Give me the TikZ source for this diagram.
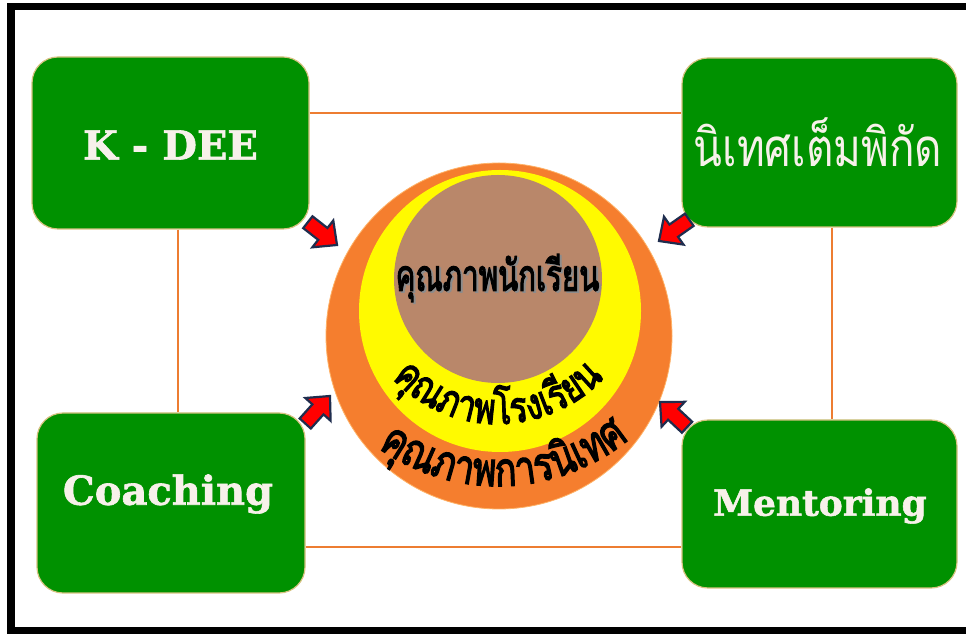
\documentclass[tikz,border=0pt]{standalone}
\usepackage{fontspec}
\newfontfamily\thaifont[Script=Thai]{Loma}
\newfontfamily\thaiheavy[Script=Thai,FakeBold=3.2]{Loma}
\newfontfamily\serifheavy[BoldFeatures={FakeBold=1.5}]{DejaVu Serif}
\definecolor{boxgreen}{RGB}{0,145,0}
\definecolor{boxedge}{RGB}{214,194,128}
\definecolor{linecol}{RGB}{237,125,49}
\definecolor{outerc}{RGB}{245,126,46}
\definecolor{yellowc}{RGB}{255,250,0}
\definecolor{brownc}{RGB}{185,135,106}
\definecolor{arrowred}{RGB}{255,0,0}
\definecolor{arrowedge}{RGB}{31,45,78}
\definecolor{cream}{RGB}{247,241,234}
\newlength\glw
\newcommand\arcmeasure[2]{%
  \gdef\arcacc{0}%
  \foreach \cl [count=\ci] in {#2}{%
    \settowidth\glw{#1{\cl}}%
    \expandafter\xdef\csname arcw\ci\endcsname{\the\glw}%
    \pgfmathsetmacro\arctmp{\arcacc+\glw}%
    \global\let\arcacc\arctmp}%
}
\newcommand\arcplace[5]{%
  \pgfmathsetmacro\arcstart{#3-\arcacc/#2*57.29578/2}%
  \gdef\arcpos{0}%
  \foreach \cl [count=\ci] in {#5}{%
    \edef\curw{\csname arcw\ci\endcsname}%
    \pgfmathsetmacro\arcang{\arcstart+(\arcpos+\curw/2)/#2*57.29578}%
    \node[anchor=base, rotate=\arcang+90, inner sep=0pt] at ([shift={(\arcang:#2)}]#1) {#4{\cl}};
    \pgfmathsetmacro\arctmp{\arcpos+\curw}%
    \global\let\arcpos\arctmp}%
}
\newcommand\glyphA[1]{\scalebox{1.0}[1.3]{\thaiheavy\fontsize{33}{40}\selectfont #1}}
\newcommand\glyphB[1]{\scalebox{1.0}[1.3]{\thaiheavy\fontsize{36}{42}\selectfont #1}}
\newcommand\blockarrow[2]{%
  \draw[arrowshape, shift={#1}, rotate=#2] (0,0) -- (-18,17) -- (-18,7.5) -- (-37,7.5) -- (-37,-7.5) -- (-18,-7.5) -- (-18,-17) -- cycle;
}
\tikzset{
  gbox/.style={rectangle, rounded corners=26pt, fill=boxgreen, draw=boxedge, line width=1.2pt, inner sep=0pt},
  engtext/.style={text=cream, font=\serifheavy\bfseries\fontsize{40}{48}\selectfont, inner sep=0pt},
  thaibox/.style={text=cream, font=\thaifont\fontsize{44}{54}\selectfont, inner sep=0pt},
  link/.style={draw=linecol, line width=2.6pt},
  arrowshape/.style={fill=arrowred, draw=arrowedge, line width=2.2pt, line join=miter},
  disc/.style={circle, inner sep=0pt},
}
\begin{document}
\begin{tikzpicture}[x=1pt,y=1pt]
\useasboundingbox (0,0) rectangle (966,634);
\fill[white] (0,0) rectangle (966,634);
% frame
\fill[black] (7,624) rectangle (966,631);
\fill[black] (7,0) rectangle (15,631);
\fill[black] (7,0) rectangle (966,7);
% boxes
\node[gbox, minimum width=277pt, minimum height=172pt] (kdee) at (170.5,491) {};
\node[gbox, minimum width=275pt, minimum height=169pt] (nitet) at (819.5,491.5) {};
\node[gbox, minimum width=268pt, minimum height=180pt] (coach) at (171,131) {};
\node[gbox, minimum width=275pt, minimum height=168pt] (mentor) at (819.5,130) {};
% links
\coordinate (ytop) at (0,521);
\coordinate (ybot) at (0,87);
\coordinate (xleft) at (178,0);
\coordinate (xright) at (832,0);
\draw[link] (kdee.east |- ytop) -- (nitet.west |- ytop);
\draw[link] (coach.east |- ybot) -- (mentor.west |- ybot);
\draw[link] (xleft |- kdee.south) -- (xleft |- coach.north);
\draw[link] (xright |- nitet.south) -- (xright |- mentor.north);
% box texts
\node[engtext] (kdeet) at (170.5,489) {K - DEE};
\node[thaibox] (nitett) at (818,492) {\scalebox{0.96}[1.2]{นิเทศเต็มพิกัด}};
\node[engtext] (coacht) at (168,140) {Coaching};
\node[engtext, font=\serifheavy\bfseries\fontsize{36}{44}\selectfont] (mentort) at (820,128) {Mentoring};
% circles
\node[disc, fill=outerc, draw=orange!60, line width=0.8pt, minimum size=346pt] (outer) at (499,298) {};
\node[disc, fill=yellowc, minimum size=282pt] (mid) at (500,323) {};
\node[disc, fill=brownc, minimum size=208pt] (inner) at (498,355) {};
\coordinate (ctr) at (498,355);
% centre texts
\node[text=black!45, inner sep=0pt] (studsh) at (499.5,354.5) {\scalebox{0.92}[1.35]{\thaiheavy\fontsize{32}{40}\selectfont คุณภาพนักเรียน}};
\node[inner sep=0pt] (stud) at (497.5,356) {\scalebox{0.92}[1.35]{\thaiheavy\fontsize{32}{40}\selectfont คุณภาพนักเรียน}};
\node[inner sep=0pt] (measA) at (498,355) {\arcmeasure{\glyphA}{คุ,ณ,ภ,า,พ,โ,ร,ง,เ,รี,ย,น}};
\arcplace{ctr}{145}{-90}{\glyphA}{คุ,ณ,ภ,า,พ,โ,ร,ง,เ,รี,ย,น}
\node[inner sep=0pt] (measB) at (498,355) {\arcmeasure{\glyphB}{คุ,ณ,ภ,า,พ,ก,า,ร,นิ,เ,ท,ศ}};
\arcplace{ctr}{207}{-88}{\glyphB}{คุ,ณ,ภ,า,พ,ก,า,ร,นิ,เ,ท,ศ}
% arrows
\blockarrow{(337,389)}{-38}
\blockarrow{(659,393)}{215}
\blockarrow{(330,238)}{48}
\blockarrow{(660,232)}{137}
\end{tikzpicture}
\end{document}
